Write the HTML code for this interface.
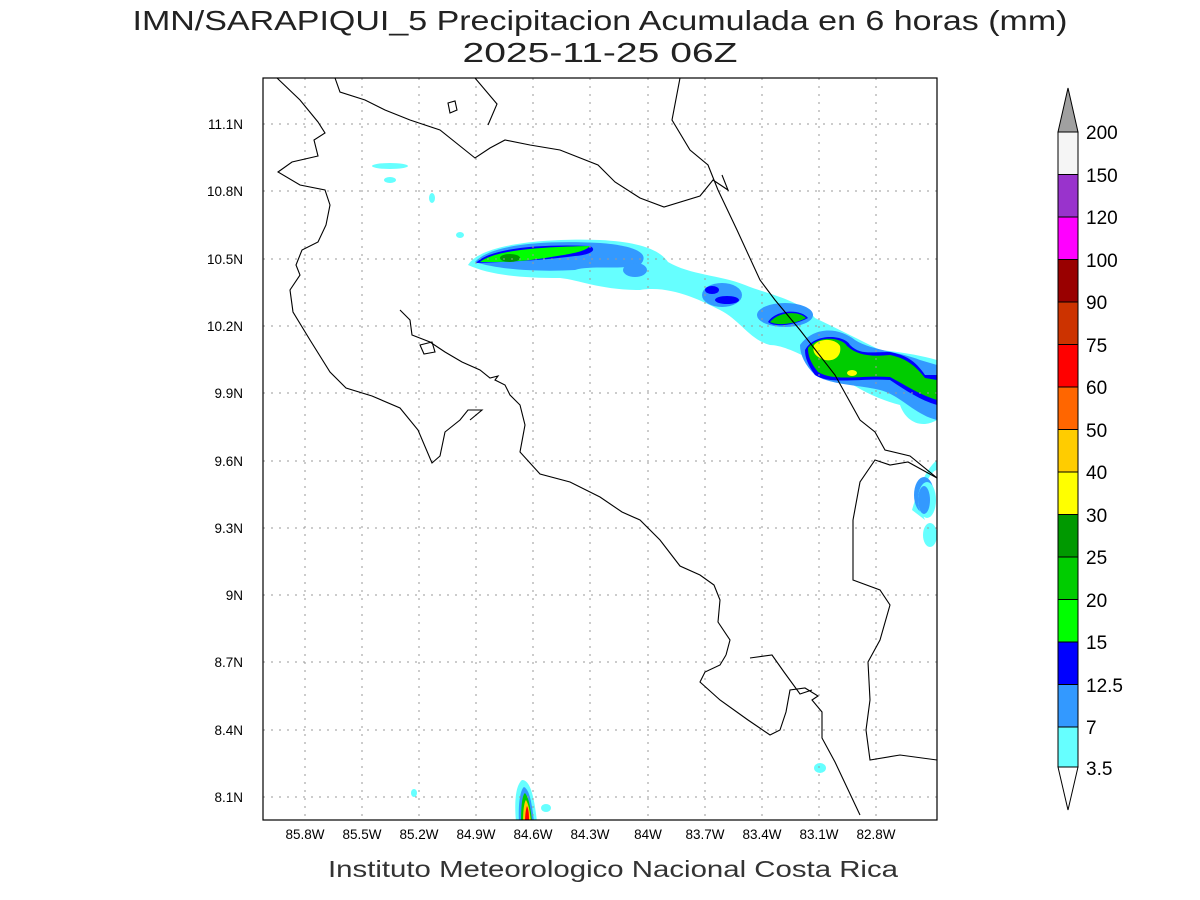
<!DOCTYPE html>
<html><head><meta charset="utf-8"><style>
html,body{margin:0;padding:0;background:#fff;}
svg{display:block;}
text{font-family:"Liberation Sans",sans-serif;}
</style></head><body>
<svg width="1200" height="900" viewBox="0 0 1200 900" xmlns="http://www.w3.org/2000/svg">
<rect width="1200" height="900" fill="#fff"/>
<text x="600" y="30" font-size="28" text-anchor="middle" fill="#222" textLength="935" lengthAdjust="spacingAndGlyphs">IMN/SARAPIQUI_5 Precipitacion Acumulada en 6 horas (mm)</text>
<text x="600" y="62" font-size="28" text-anchor="middle" fill="#222" textLength="275" lengthAdjust="spacingAndGlyphs">2025-11-25 06Z</text>
<defs><clipPath id="c"><rect x="263" y="78" width="674" height="742"/></clipPath></defs>
<g clip-path="url(#c)">
<g>
<path d="M468,265 C480,245 540,238 600,240 C640,242 660,250 668,262 C690,275 720,275 745,285 C770,295 800,300 815,318 C840,330 860,340 880,350 C900,352 920,355 937,360 L937,460 C925,470 918,490 912,510 L925,520 C915,500 930,470 937,470 L937,420 C920,430 905,420 900,405 C880,400 860,390 845,380 C830,370 790,345 770,345 C750,340 740,320 720,310 C700,300 670,285 640,290 C600,290 580,280 560,278 C520,278 490,275 468,265Z" fill="#66ffff"/>
<path d="M475,262 C490,245 540,240 600,243 C640,246 650,255 640,265 C620,270 590,265 575,270 C540,272 500,270 475,262Z" fill="#3399ff"/>
<ellipse cx="635" cy="270" rx="12" ry="7" fill="#3399ff"/>
<ellipse cx="722" cy="295" rx="20" ry="12" fill="#3399ff"/>
<ellipse cx="785" cy="315" rx="28" ry="12" fill="#3399ff"/>
<path d="M800,345 C815,325 840,328 855,340 C870,350 900,352 920,360 L937,365 L937,420 C915,415 900,395 880,390 C860,385 830,385 815,375 C805,365 800,355 800,345Z" fill="#3399ff"/>
<ellipse cx="924" cy="495" rx="10" ry="18" fill="#3399ff"/>
<path d="M476,263 C490,248 540,244 590,246 C598,250 590,255 575,256 C545,260 510,262 476,263Z" fill="#0000ff"/>
<ellipse cx="712" cy="290" rx="7" ry="4" fill="#0000ff"/>
<ellipse cx="727" cy="300" rx="12" ry="4" fill="#0000ff"/>
<path d="M768,322 C775,310 800,308 808,318 C795,325 775,328 768,322Z" fill="#0000ff"/>
<path d="M805,350 C815,332 845,335 850,345 C860,355 870,352 890,352 C905,355 915,360 925,375 L937,375 L937,405 C920,400 905,390 890,380 C860,378 830,385 815,375 C808,365 805,358 805,350Z" fill="#0000ff"/>
<path d="M480,262 C495,250 540,247 590,246 C585,252 570,254 545,258 C520,262 500,262 480,262Z" fill="#00ff00"/>
<path d="M770,322 C778,312 798,310 806,318 C795,324 778,326 770,322Z" fill="#00cc00"/>
<path d="M808,348 C818,335 842,337 847,346 C857,355 870,357 890,355 C905,358 915,365 925,378 L937,380 L937,400 C920,395 905,385 890,377 C860,375 835,382 818,372 C810,362 808,355 808,348Z" fill="#00cc00"/>
<ellipse cx="510" cy="258" rx="10" ry="4" fill="#009900"/>
<path d="M814,345 C820,338 835,338 840,346 C842,355 835,362 825,360 C815,357 812,352 814,345Z" fill="#ffff00"/>
<ellipse cx="852" cy="373" rx="5" ry="3" fill="#ffff00"/>
<ellipse cx="390" cy="166" rx="18" ry="3" fill="#66ffff"/>
<ellipse cx="390" cy="180" rx="6" ry="3" fill="#66ffff"/>
<ellipse cx="432" cy="198" rx="3" ry="5" fill="#66ffff"/>
<ellipse cx="460" cy="235" rx="4" ry="3" fill="#66ffff"/>
<ellipse cx="820" cy="768" rx="6" ry="5" fill="#66ffff"/>
<ellipse cx="414" cy="793" rx="3" ry="4" fill="#66ffff"/>
<ellipse cx="930" cy="535" rx="7" ry="12" fill="#66ffff"/>
<ellipse cx="927" cy="500" rx="9" ry="18" fill="#66ffff"/>
<ellipse cx="924" cy="500" rx="6" ry="14" fill="#3399ff"/>
<path d="M516,822 C514,800 516,785 522,780 C530,780 534,795 537,822Z" fill="#66ffff"/>
<path d="M519,822 C518,805 520,790 524,787 C530,790 532,805 534,822Z" fill="#3399ff"/>
<path d="M521,822 C521,808 522,795 525,793 C529,798 531,810 532,822Z" fill="#00cc00"/>
<path d="M523,822 C523,812 524,802 526,800 C529,805 530,813 531,822Z" fill="#ffcc00"/>
<path d="M525,822 C525,815 526,808 527,806 C529,810 529,816 529,822Z" fill="#ff0000"/>
<ellipse cx="546" cy="808" rx="5" ry="4" fill="#66ffff"/>
</g>
<g stroke="#999" stroke-width="1" stroke-dasharray="2,6">
<path d="M305,78V820M362,78V820M419,78V820M476,78V820M533,78V820M590,78V820M648,78V820M705,78V820M762,78V820M819,78V820M876,78V820"/>
<path d="M263,124H937M263,191H937M263,259H937M263,326H937M263,393H937M263,461H937M263,528H937M263,595H937M263,662H937M263,730H937M263,797H937"/>
</g>
<g fill="none" stroke="#000" stroke-width="1.1">
<path d="M277,78 L300,100 L318,122 L325,133 L314,140 L318,156 L292,162 L278,172 L300,185 L325,190 L330,205 L326,225 L318,242 L302,250 L296,265 L300,275 L290,290 L293,312 L310,340 L330,372 L346,388 L372,396 L400,408 L418,430 L432,463 L440,456 L445,432 L460,420 L468,410 L482,410 L470,420"/>
<path d="M400,310 L410,320 L412,335 L430,342 L445,352 L462,362 L480,370 L490,378 L498,376 L495,380 L505,385 L510,395 L520,405 L525,425 L520,452 L540,474 L570,482 L600,497 L622,512 L640,520 L660,540 L680,566 L700,575 L714,585 L720,600 L718,622 L730,640 L726,655"/>
<path d="M420,345 L432,342 L435,352 L424,354 Z"/>
<path d="M726,655 L720,665 L705,672 L700,682 L720,700 L748,720 L770,735 L780,730 L786,712 L790,690 L805,688 L818,696 L812,700 L822,712 L822,738 L835,762 L860,815"/>
<path d="M750,658 L772,655 L784,672 L800,694 L812,690"/>
<path d="M335,78 L340,92 L365,100 L385,110 L410,120 L440,130 L475,158 L490,148 L505,140 L530,145 L560,150 L598,165 L615,182 L640,198 L664,207 L700,196 L713,180 L728,190 L722,175"/>
<path d="M475,78 L497,104 L488,125"/>
<path d="M448,103 L455,101 L457,110 L450,113 Z"/>
<path d="M680,78 L672,120 L690,150 L708,165 L718,190 L737,230 L760,280 L775,300 L800,330 L835,375 L860,420 L875,432 L885,450 L910,456 L937,478"/>
<path d="M937,478 L908,462 L890,465 L875,460 L860,482 L853,520 L853,580 L880,590 L890,605 L880,640 L868,662 L870,700 L866,730 L870,760 L900,755 L937,760"/>
</g>
</g>
<rect x="263" y="78" width="674" height="742" fill="none" stroke="#000" stroke-width="1.2"/>
<g font-size="13.5" fill="#000" text-anchor="middle">
<text x="305" y="839">85.8W</text><text x="362" y="839">85.5W</text><text x="419" y="839">85.2W</text><text x="476" y="839">84.9W</text><text x="533" y="839">84.6W</text><text x="590" y="839">84.3W</text><text x="648" y="839">84W</text><text x="705" y="839">83.7W</text><text x="762" y="839">83.4W</text><text x="819" y="839">83.1W</text><text x="876" y="839">82.8W</text>
</g>
<g font-size="13.5" fill="#000" text-anchor="end">
<text x="243" y="129">11.1N</text><text x="243" y="196">10.8N</text><text x="243" y="264">10.5N</text><text x="243" y="331">10.2N</text><text x="243" y="398">9.9N</text><text x="243" y="466">9.6N</text><text x="243" y="533">9.3N</text><text x="243" y="600">9N</text><text x="243" y="667">8.7N</text><text x="243" y="735">8.4N</text><text x="243" y="802">8.1N</text>
</g>
<text x="613" y="877" font-size="23" text-anchor="middle" fill="#333" textLength="570" lengthAdjust="spacingAndGlyphs">Instituto Meteorologico Nacional Costa Rica</text>
<g stroke="#000" stroke-width="1">
<path d="M1058,132 L1068,88 L1078,132 Z" fill="#a0a0a0"/>
<rect x="1058" y="132" width="20" height="42.5" fill="#f5f5f5"/>
<rect x="1058" y="174.5" width="20" height="42.5" fill="#9933cc"/>
<rect x="1058" y="217" width="20" height="42.5" fill="#ff00ff"/>
<rect x="1058" y="259.5" width="20" height="42.5" fill="#990000"/>
<rect x="1058" y="302" width="20" height="42.5" fill="#cc3300"/>
<rect x="1058" y="344.5" width="20" height="42.5" fill="#ff0000"/>
<rect x="1058" y="387" width="20" height="42.5" fill="#ff6600"/>
<rect x="1058" y="429.5" width="20" height="42.5" fill="#ffcc00"/>
<rect x="1058" y="472" width="20" height="42.5" fill="#ffff00"/>
<rect x="1058" y="514.5" width="20" height="42.5" fill="#009900"/>
<rect x="1058" y="557" width="20" height="42.5" fill="#00cc00"/>
<rect x="1058" y="599.5" width="20" height="42.5" fill="#00ff00"/>
<rect x="1058" y="642" width="20" height="42.5" fill="#0000ff"/>
<rect x="1058" y="684.5" width="20" height="42.5" fill="#3399ff"/>
<rect x="1058" y="727" width="20" height="40" fill="#66ffff"/>
<path d="M1058,767 L1068,810 L1078,767 Z" fill="#fff"/>
</g>
<g font-size="19" fill="#000">
<text x="1086" y="139">200</text><text x="1086" y="182">150</text><text x="1086" y="224">120</text><text x="1086" y="267">100</text><text x="1086" y="309">90</text><text x="1086" y="352">75</text><text x="1086" y="394">60</text><text x="1086" y="437">50</text><text x="1086" y="479">40</text><text x="1086" y="522">30</text><text x="1086" y="564">25</text><text x="1086" y="607">20</text><text x="1086" y="649">15</text><text x="1086" y="692">12.5</text><text x="1086" y="734">7</text><text x="1086" y="775">3.5</text>
</g>
</svg>
</body></html>
